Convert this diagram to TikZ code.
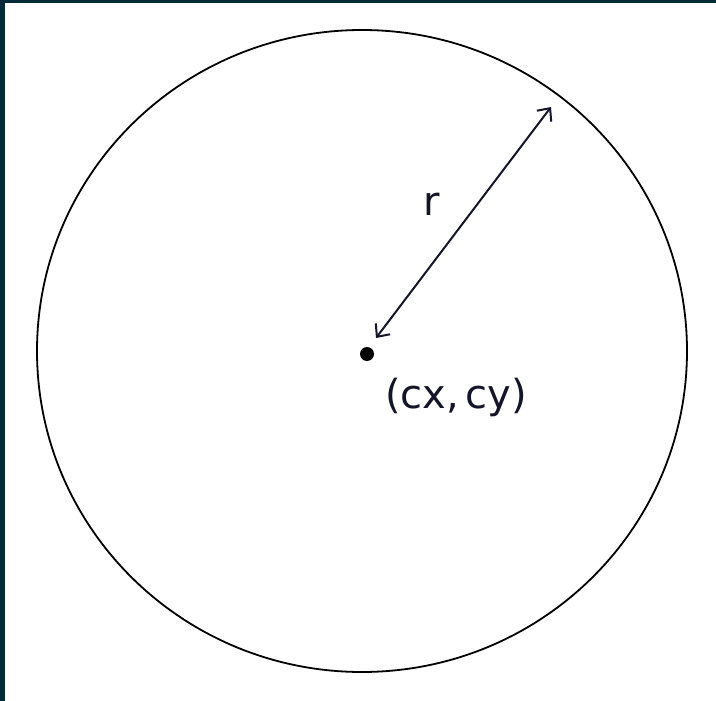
\documentclass[tikz,border=0pt]{standalone}
\usepackage{fontspec}
\setmainfont{DejaVu Sans}
\usetikzlibrary{arrows.meta}
\definecolor{frame}{HTML}{022B3A}
\definecolor{ink}{HTML}{15152A}
\tikzset{
  outline/.style={draw=black, line width=1.8pt},
  radius arrow/.style={draw=ink, line width=2pt, {Straight Barb[length=10pt,width=18pt]}-{Straight Barb[length=10pt,width=18pt]}},
  handtext/.style={text=ink, font=\fontsize{40}{44}\selectfont},
}
\begin{document}
\begin{tikzpicture}[x=1pt,y=1pt]
\useasboundingbox (0,0) rectangle (716,-701);
\fill[white] (0,0) rectangle (716,-701);
\fill[frame] (0,0) rectangle (716,-3);
\fill[frame] (0,0) rectangle (5,-701);
\draw[outline] (362,-351) circle [x radius=325, y radius=321];
\node[circle, fill=black, inner sep=0pt, minimum size=14pt] (c) at (367,-354) {};
\coordinate (a) at (376,-338);
\coordinate (b) at (551,-107);
\draw[radius arrow] (a) -- (b);
\node[handtext] (r) at (432,-204) {r};
\node[handtext] (lbl) at (456,-397) {(cx,\,cy)};
\end{tikzpicture}
\end{document}
